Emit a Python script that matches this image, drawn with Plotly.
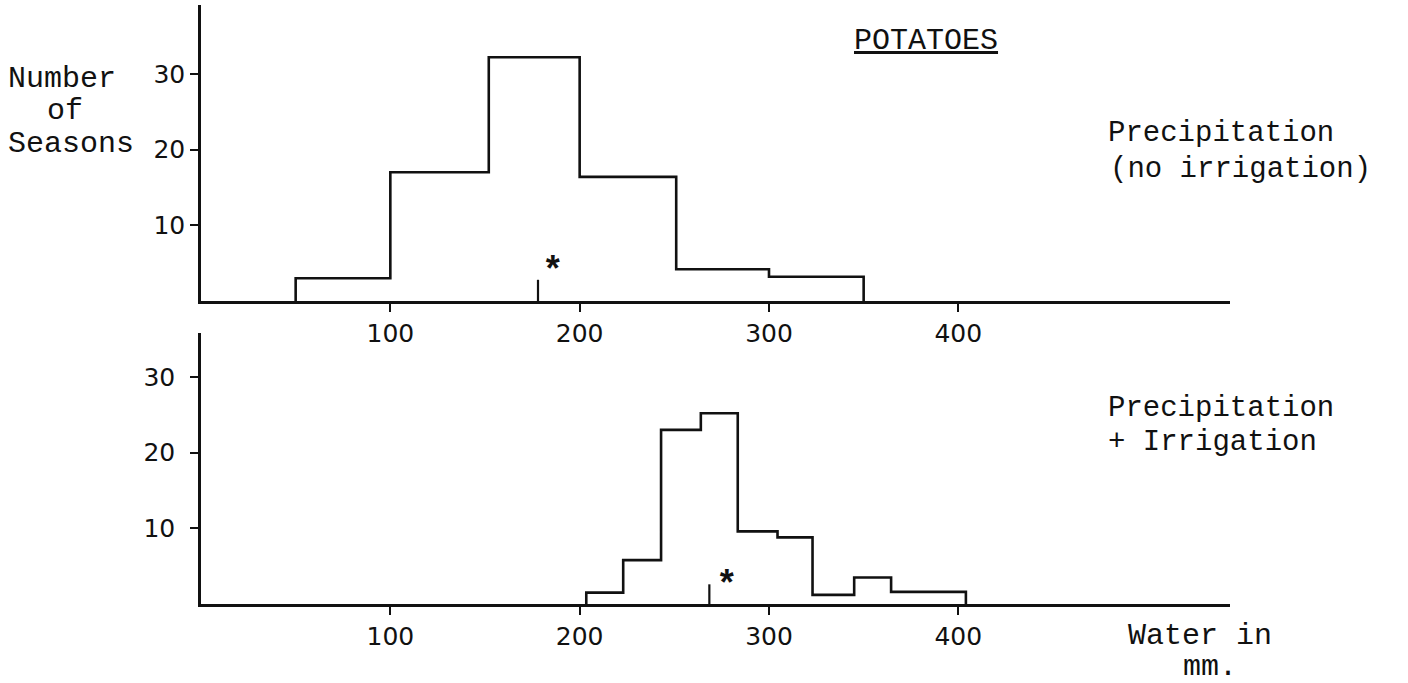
import plotly.graph_objects as go

# ---------------- data ----------------
x_ticks = [100, 200, 300, 400]
y_ticks = [10, 20, 30]

# Top panel: precipitation only (no irrigation)
top_edges = [50, 100, 152, 200, 251, 300, 350]
top_counts = [3, 17, 32.2, 16.4, 4.2, 3.2]
top_mean = 178
top_mean_h = 2.8

# Bottom panel: precipitation + irrigation
bot_edges = [203.5, 223, 243, 264, 283.5, 304.5, 323, 345, 364.5, 404]
bot_counts = [1.5, 5.8, 23, 25.2, 9.6, 8.8, 1.2, 3.5, 1.6]
bot_mean = 268.5
bot_mean_h = 2.6

W, H = 1408, 683
def px(x):
    return x / W
def py(y):
    return 1 - y / H

MONO = "Liberation Mono"
SANS = "DejaVu Sans"
BLACK = "#111111"


def step_path(edges, counts):
    xs, ys = [edges[0]], [0]
    for l, r, c in zip(edges[:-1], edges[1:], counts):
        xs += [l, r]
        ys += [c, c]
    xs.append(edges[-1])
    ys.append(0)
    return xs, ys


fig = go.Figure()

tx, ty = step_path(top_edges, top_counts)
fig.add_trace(go.Scatter(x=tx, y=ty, mode="lines", xaxis="x", yaxis="y",
                         line=dict(color=BLACK, width=2.6), hoverinfo="skip"))
fig.add_trace(go.Scatter(x=[top_mean, top_mean], y=[0, top_mean_h], mode="lines",
                         xaxis="x", yaxis="y", line=dict(color=BLACK, width=2.2),
                         hoverinfo="skip"))

bx, by = step_path(bot_edges, bot_counts)
fig.add_trace(go.Scatter(x=bx, y=by, mode="lines", xaxis="x2", yaxis="y2",
                         line=dict(color=BLACK, width=2.6), hoverinfo="skip"))
fig.add_trace(go.Scatter(x=[bot_mean, bot_mean], y=[0, bot_mean_h], mode="lines",
                         xaxis="x2", yaxis="y2", line=dict(color=BLACK, width=2.2),
                         hoverinfo="skip"))

x_range = [0, 543.5]
x_dom = [px(201), px(1230)]

common_x = dict(range=x_range, domain=x_dom, tickvals=x_ticks, ticks="outside",
                ticklen=8, tickwidth=2, tickcolor=BLACK, showline=True,
                linewidth=2.6, linecolor=BLACK, showgrid=False, zeroline=False,
                tickfont=dict(family=SANS, size=25, color=BLACK),
                ticklabelstandoff=0, fixedrange=True)
common_y = dict(tickvals=y_ticks, ticks="outside", ticklen=8, tickwidth=2,
                tickcolor=BLACK, showline=True, linewidth=2.6, linecolor=BLACK,
                showgrid=False, zeroline=False,
                tickfont=dict(family=SANS, size=25, color=BLACK), fixedrange=True)

fig.update_layout(
    width=W, height=H,
    margin=dict(l=0, r=0, t=0, b=0),
    paper_bgcolor="white", plot_bgcolor="white",
    showlegend=False,
    xaxis=dict(anchor="y", **common_x),
    yaxis=dict(anchor="x", domain=[py(301), py(5)], range=[0, (301 - 5) / 7.57],
               ticklabelstandoff=0, **common_y),
    xaxis2=dict(anchor="y2", **common_x),
    yaxis2=dict(anchor="x2", domain=[py(604), py(333)], range=[0, (604 - 333) / 7.57],
                ticklabelstandoff=10, **common_y),
)

def note(text, x, y, size=30, family=MONO, xanchor="left"):
    fig.add_annotation(text=text, x=px(x), y=py(y), xref="paper", yref="paper",
                       xanchor=xanchor, yanchor="middle", showarrow=False,
                       font=dict(family=family, size=size, color=BLACK))

# y-axis label
note("Number", 6, 79)
note("of", 45, 111)
note("Seasons", 6, 144)

# title
note("<u>POTATOES</u>", 852, 41)

# panel descriptions
note("Precipitation", 1106, 134, size=29)
note("(no irrigation)", 1108, 169, size=29)
note("Precipitation", 1106, 408, size=29)
note("+ Irrigation", 1106, 442, size=29)

# x-axis label
note("Water in", 1126, 636)
note("mm.", 1181, 667)

# asterisks marking the means
note("<b>*</b>", 553, 272, size=36, xanchor="center")
note("<b>*</b>", 727, 586, size=36, xanchor="center")

fig.write_html("out.html")
